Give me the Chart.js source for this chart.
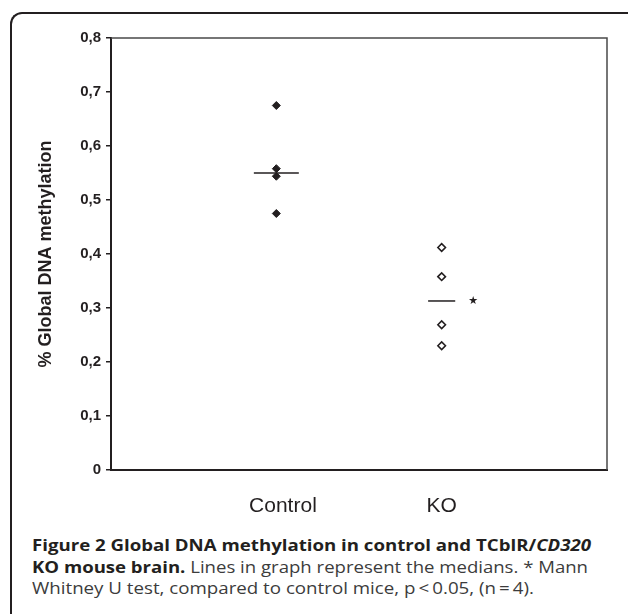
<!DOCTYPE html>
<html>
<head>
<meta charset="utf-8">
<title>Global DNA methylation</title>
<script src="https://cdn.jsdelivr.net/npm/chart.js@4.4.0/dist/chart.umd.min.js"></script>
<style>
    html, body { margin: 0; padding: 0; background: #fff; }
    html { overflow: hidden; }
    body { width: 628px; height: 614px; position: relative; overflow: hidden; }
    .frame {
        position: absolute; left: 10px; top: 12px; width: 630px; height: 620px;
        border-top: 2px solid #231f20; border-left: 2px solid #231f20;
        border-top-left-radius: 12px; box-sizing: border-box;
    }
    .chart-wrap { position: absolute; left: 0; top: 0; width: 628px; height: 530px; }
    .cap {
        position: absolute; left: 32px; white-space: nowrap;
        font-family: "Open Sans", "Noto Sans", sans-serif; font-size: 16px; line-height: 22px;
        color: #3c3c3c; transform-origin: 0 0; display: inline-block;
    }
    .cap b { color: #231f20; font-weight: 700; }
</style>
</head>
<body>
<div class="frame"></div>
<div class="chart-wrap"><canvas id="methChart"></canvas></div>
<div class="cap" style="top:534px" data-w="559"><b>Figure 2 Global DNA methylation in control and TCblR/<i>CD320</i></b></div>
<div class="cap" style="top:556px" data-w="556"><b>KO mouse brain.</b> Lines in graph represent the medians. * Mann</div>
<div class="cap" style="top:577px" data-w="502">Whitney U test, compared to control mice, p&#8201;&lt;&#8201;0.05, (n&#8201;=&#8201;4).</div>
<script>
// values
const groups = ['Control', 'KO'];
const groupX = [1, 2];
const labelX = [1.04, 2.0];
const controlValues = [0.675, 0.558, 0.544, 0.475];
const koValues = [0.412, 0.358, 0.269, 0.230];
const medians = [0.55, 0.313];
const medianHalfWidths = [0.136, 0.082];
const yTicks = [0, 0.1, 0.2, 0.3, 0.4, 0.5, 0.6, 0.7, 0.8];
const sigMark = { x: 2.19, y: 0.313, text: '\u2605' };

const ink = '#231f20';
const axisFont = "'Liberation Sans', Arial, sans-serif";

// fit caption lines to the widths in the figure
document.querySelectorAll('.cap').forEach(el => {
    const w = el.getBoundingClientRect().width;
    el.style.transform = `scaleX(${+el.dataset.w / w})`;
});

const frameLines = {
    id: 'frameLines',
    afterDatasetsDraw(chart) {
        const { ctx, chartArea: a, scales } = chart;
        ctx.save();
        // top and right edges of the plot box
        ctx.strokeStyle = '#4a4a4a';
        ctx.lineWidth = 1.5;
        ctx.beginPath();
        ctx.moveTo(a.left, a.top);
        ctx.lineTo(a.right, a.top);
        ctx.lineTo(a.right, a.bottom);
        ctx.stroke();
        // significance mark next to the KO median
        ctx.fillStyle = ink;
        ctx.font = '11px "DejaVu Sans"';
        ctx.textAlign = 'center';
        ctx.textBaseline = 'middle';
        ctx.fillText(sigMark.text, scales.x.getPixelForValue(sigMark.x), scales.y.getPixelForValue(sigMark.y));
        ctx.restore();
    }
};

const medianLine = i => ({
    type: 'line',
    data: [
        { x: groupX[i] - medianHalfWidths[i], y: medians[i] },
        { x: groupX[i] + medianHalfWidths[i], y: medians[i] }
    ],
    showLine: true,
    borderColor: ink,
    borderWidth: 1.5,
    pointRadius: 0
});

new Chart(document.getElementById('methChart'), {
    type: 'scatter',
    data: {
        datasets: [
            medianLine(0),
            medianLine(1),
            {
                label: groups[0],
                data: controlValues.map(v => ({ x: groupX[0], y: v })),
                pointStyle: 'rectRot',
                pointRadius: 4,
                backgroundColor: ink,
                borderColor: ink,
                borderWidth: 1
            },
            {
                label: groups[1],
                data: koValues.map(v => ({ x: groupX[1], y: v })),
                pointStyle: 'rectRot',
                pointRadius: 3.8,
                backgroundColor: '#fff',
                borderColor: ink,
                borderWidth: 1.6
            }
        ]
    },
    options: {
        responsive: true,
        maintainAspectRatio: false,
        animation: false,
        layout: { padding: { left: 35, top: 38, right: 21, bottom: 0 } },
        plugins: {
            legend: { display: false },
            tooltip: { enabled: false }
        },
        scales: {
            x: {
                type: 'linear',
                min: 0,
                max: 3,
                afterBuildTicks: s => { s.ticks = labelX.map(v => ({ value: v })); },
                afterFit: s => { s.height = 60; },
                grid: { display: false, drawTicks: false },
                border: { display: true, color: ink, width: 2 },
                ticks: {
                    color: ink,
                    padding: 24,
                    maxRotation: 0,
                    autoSkip: false,
                    font: { family: axisFont, size: 21 },
                    callback: v => groups[labelX.indexOf(v)]
                }
            },
            y: {
                min: 0,
                max: 0.8,
                afterBuildTicks: s => { s.ticks = yTicks.map(v => ({ value: v })); },
                afterFit: s => { s.width = 76; },
                grid: { drawOnChartArea: false, drawTicks: true, tickLength: 5, color: ink, lineWidth: 1.5 },
                border: { display: true, color: ink, width: 2 },
                ticks: {
                    color: ink,
                    padding: 5,
                    font: { family: axisFont, size: 15, weight: 'bold' },
                    callback: v => v === 0 ? '0' : v.toFixed(1).replace('.', ',')
                },
                title: {
                    display: true,
                    text: '% Global DNA methylation',
                    color: ink,
                    padding: { top: 0, bottom: 0 },
                    font: { family: axisFont, size: 18, weight: 'bold' }
                }
            }
        }
    },
    plugins: [frameLines]
});
</script>
</body>
</html>
